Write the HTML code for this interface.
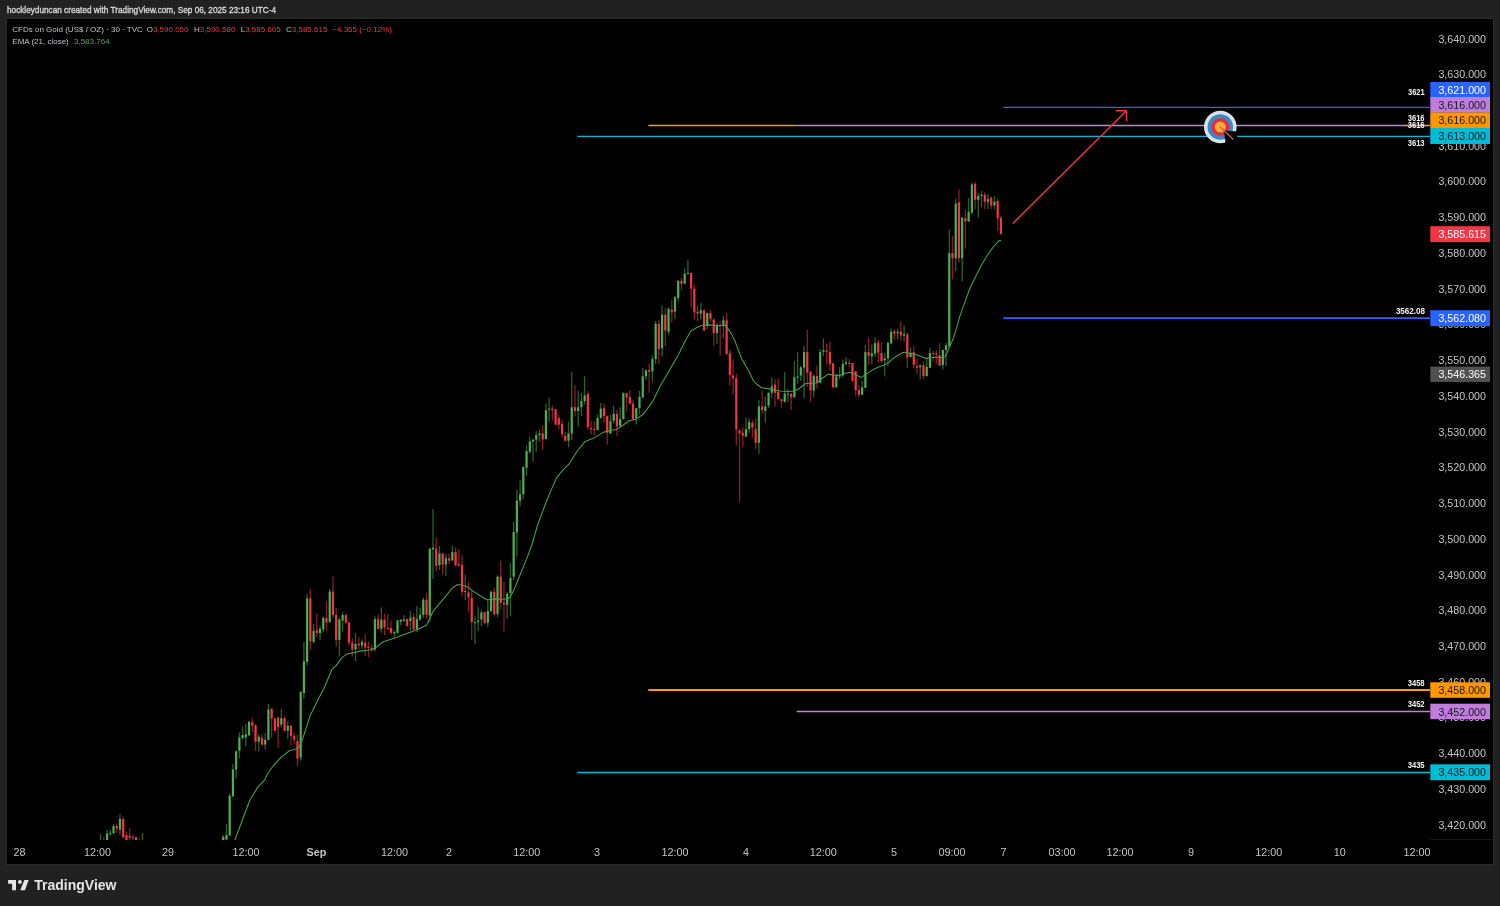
<!DOCTYPE html><html><head><meta charset="utf-8"><title>TradingView chart</title><style>
html,body{margin:0;padding:0;background:#212121;width:1500px;height:906px;overflow:hidden}
svg{display:block}
text{font-family:"Liberation Sans",Arial,sans-serif}
svg{-webkit-font-smoothing:antialiased}
</style></head><body>
<svg width="1500" height="906" viewBox="0 0 1500 906" style="will-change:transform">
<rect x="0" y="0" width="1500" height="906" fill="#212121"/>
<text x="7" y="13.4" font-size="9.2" font-weight="400" fill="#d8d8d8" stroke="#d8d8d8" stroke-width="0.35" textLength="269" lengthAdjust="spacingAndGlyphs">hockleyduncan created with TradingView.com, Sep 06, 2025 23:16 UTC-4</text>
<rect x="6.5" y="18.5" width="1487" height="846" fill="#000" stroke="#2c2c2c" stroke-width="1"/>
<defs><clipPath id="pane"><rect x="7" y="19" width="1423" height="821"/></clipPath></defs>
<g clip-path="url(#pane)">
<line x1="577.3" y1="136.4" x2="1430" y2="136.4" stroke="#00bcd4" stroke-width="1.3"/>
<line x1="648.3" y1="125.5" x2="796.7" y2="125.5" stroke="#ff9800" stroke-width="1.3"/>
<line x1="796.7" y1="125.5" x2="1430" y2="125.5" stroke="#c27fe0" stroke-width="1.3"/>
<line x1="1404" y1="125.5" x2="1428" y2="125.5" stroke="#ff9800" stroke-width="1.3"/>
<line x1="1003.3" y1="107.4" x2="1430" y2="107.4" stroke="#2962ff" stroke-width="1.3"/>
<line x1="1003.3" y1="318.1" x2="1430" y2="318.1" stroke="#2962ff" stroke-width="1.8"/>
<line x1="648.3" y1="690" x2="1430" y2="690" stroke="#ff9800" stroke-width="1.8"/>
<line x1="796.7" y1="711.5" x2="1430" y2="711.5" stroke="#c27fe0" stroke-width="1.3"/>
<line x1="577.3" y1="772.5" x2="1430" y2="772.5" stroke="#00bcd4" stroke-width="1.3"/>
<path d="M100.62 833.9V845.0M107.08 830.0V843.0M110.30 830.0V836.0M113.53 824.0V835.0M119.98 814.1V834.9M142.57 833.0V843.0M223.24 835.0V843.0M226.47 824.1V841.0M229.69 793.3V836.0M232.92 764.0V797.0M236.15 750.5V778.6M239.38 732.5V758.6M242.60 726.4V739.8M245.83 724.0V746.5M249.06 721.0V736.0M258.74 734.3V751.3M265.19 733.1V749.5M268.42 704.0V740.5M281.32 708.8V727.6M287.78 721.0V739.2M300.68 691.0V760.4M303.91 641.9V698.5M307.14 594.3V665.4M313.59 624.0V643.0M320.05 625.4V639.9M323.27 616.4V632.3M329.73 588.8V623.3M339.41 618.5V656.4M342.63 612.3V631.6M355.54 633.0V661.2M361.99 639.2V648.8M374.90 616.4V651.6M381.35 607.3V632.8M394.26 630.7V637.6M397.49 620.0V633.5M400.72 619.0V625.2M403.94 614.9V621.8M410.40 610.7V630.7M416.85 605.9V632.1M420.08 608.0V620.5M423.30 597.6V618.3M429.76 548.0V622.5M432.98 509.0V579.0M439.44 545.9V570.0M445.89 554.1V576.2M452.34 546.3V561.0M465.25 574.5V600.0M474.93 616.6V644.2M478.16 606.9V631.1M481.39 609.7V626.2M487.84 600.0V626.9M491.07 590.4V611.8M497.52 575.2V617.3M507.20 591.8V618.7M510.43 562.8V615.9M513.65 522.1V580.0M516.88 489.4V556.6M520.11 480.6V506.3M523.33 466.5V499.0M526.56 445.4V475.8M529.79 436.6V453.4M533.01 439.0V461.4M536.24 431.0V451.8M539.47 429.4V441.4M545.92 403.8V439.5M549.15 397.4V421.4M568.51 421.4V447.0M571.74 372.0V440.1M578.19 390.8V426.5M581.42 393.2V415.7M584.64 376.3V404.4M597.55 414.7V430.5M600.78 403.0V418.5M610.46 414.7V434.0M613.68 405.8V423.7M620.14 407.2V426.5M623.36 392.2V419.5M636.27 407.7V424.6M639.50 390.8V414.7M642.73 368.3V398.0M645.95 369.7V380.0M652.41 355.5V382.0M655.63 321.0V364.1M662.09 305.2V356.2M668.54 307.4V334.7M674.99 295.9V318.9M678.22 280.3V301.6M684.67 268.6V284.2M687.90 260.0V274.5M700.81 303.1V319.6M707.26 312.6V328.9M716.94 322.5V344.0M723.40 316.0V338.2M745.98 417.4V437.0M749.21 418.3V432.8M758.89 400.1V453.8M765.34 396.4V422.8M768.57 392.3V408.3M771.80 377.3V398.2M784.70 371.9V402.4M787.93 389.1V401.9M794.38 360.9V397.8M797.61 351.8V383.7M800.84 365.5V381.0M804.07 346.0V398.0M813.75 374.1V397.6M820.20 349.3V383.1M823.43 338.5V356.3M836.33 373.7V387.8M839.56 367.1V379.8M842.79 359.6V377.4M846.01 357.2V365.7M862.15 380.7V395.3M865.37 345.0V388.2M871.83 344.6V364.3M875.05 337.5V356.8M884.74 353.1V376.5M887.96 341.2V365.9M891.19 328.4V343.9M897.64 328.4V339.4M904.10 325.3V341.2M910.55 347.4V357.6M920.23 363.7V379.6M926.68 357.5V376.6M929.91 347.4V368.1M942.82 349.5V369.5M946.04 343.0V365.9M949.27 229.6V347.0M955.72 199.1V270.9M962.18 217.1V281.1M968.63 197.9V221.9M971.86 182.6V214.4M978.31 192.8V217.6M981.54 190.9V207.4M987.99 194.1V209.3M994.45 196.0V209.3" stroke="#4caf50" stroke-width="1.3" fill="none" stroke-opacity="0.55"/>
<path d="M103.85 836.5V845.0M116.76 824.0V833.0M123.21 816.2V838.0M126.44 832.0V843.0M129.66 828.3V841.0M132.89 835.0V841.0M136.12 836.5V842.0M139.34 838.8V843.0M252.28 718.0V731.9M255.51 724.5V751.3M261.96 734.3V745.5M271.64 708.0V737.4M274.87 718.0V731.5M278.10 717.0V747.7M284.55 715.5V731.5M291.00 725.0V745.3M294.23 732.5V744.6M297.46 735.0V766.5M310.36 588.8V650.2M316.82 613.6V637.1M326.50 601.2V630.9M332.95 576.4V617.8M336.18 608.1V646.8M345.86 613.6V623.5M349.09 622.0V645.4M352.31 638.5V656.4M358.77 637.1V650.2M365.22 634.3V655.7M368.45 641.2V657.1M371.67 644.7V652.3M378.13 614.3V629.5M384.58 613.5V634.9M387.81 614.2V629.5M391.03 620.4V634.9M407.17 618.5V626.5M413.62 612.8V630.0M426.53 592.8V619.0M436.21 537.6V571.4M442.66 553.0V574.8M449.12 553.5V563.8M455.57 547.4V566.6M458.80 549.0V566.5M462.02 555.2V596.6M468.48 582.1V611.8M471.70 591.1V640.0M484.61 611.5V624.2M494.29 587.6V615.2M500.75 560.7V609.7M503.97 581.4V631.8M542.69 425.4V450.2M552.37 405.4V420.6M555.60 409.0V425.2M558.83 415.0V429.4M562.06 419.8V437.4M565.28 431.8V442.2M574.96 385.2V416.6M587.87 391.3V429.8M591.10 420.4V434.4M594.32 421.3V435.4M604.00 403.5V422.7M607.23 415.5V444.8M616.91 410.0V435.9M626.59 392.7V411.5M629.82 390.3V404.0M633.04 400.2V419.5M649.18 363.4V392.7M658.86 320.3V364.1M665.31 308.1V346.1M671.77 299.5V322.5M681.45 278.0V290.2M691.13 272.4V307.4M694.35 284.4V319.6M697.58 305.2V321.0M704.03 309.8V331.0M710.49 310.3V321.7M713.71 318.2V345.4M720.17 321.0V355.5M726.62 313.1V354.5M729.85 349.7V385.5M733.08 359.5V394.6M736.30 373.7V445.6M739.53 429.2V502.0M742.76 427.4V447.4M752.44 420.1V437.4M755.66 418.3V449.2M762.12 391.0V414.6M775.02 379.1V406.4M778.25 379.1V399.7M781.48 398.7V408.3M791.16 393.2V410.1M807.29 330.0V386.8M810.52 371.3V402.0M816.97 365.2V388.7M826.65 344.1V364.3M829.88 341.7V370.8M833.11 362.8V388.2M849.24 359.1V367.1M852.47 362.4V382.1M855.69 370.8V396.6M858.92 384.9V397.6M868.60 337.5V365.2M878.28 339.4V362.4M881.51 342.1V362.8M894.42 329.3V339.4M900.87 321.3V341.2M907.32 332.4V368.1M913.78 346.1V368.6M917.00 358.4V373.4M923.46 361.1V379.6M933.14 350.9V361.1M936.36 350.5V363.7M939.59 343.0V365.9M952.50 236.0V279.2M958.95 189.6V262.7M965.41 209.9V248.7M975.09 182.0V209.3M984.77 192.2V209.3M991.22 196.6V209.3M997.67 198.5V230.9M1000.90 215.7V234.6" stroke="#f23645" stroke-width="1.3" fill="none" stroke-opacity="0.55"/>
<g fill="#4caf50"><rect x="99.52" y="841.0" width="2.2" height="4.0"/><rect x="105.98" y="833.5" width="2.2" height="8.5"/><rect x="109.20" y="832.8" width="2.2" height="1.0"/><rect x="112.43" y="826.0" width="2.2" height="7.0"/><rect x="118.88" y="819.0" width="2.2" height="10.7"/><rect x="141.47" y="841.0" width="2.2" height="1.0"/><rect x="222.14" y="836.8" width="2.2" height="5.2"/><rect x="225.37" y="835.1" width="2.2" height="4.4"/><rect x="228.59" y="795.8" width="2.2" height="39.6"/><rect x="231.82" y="769.5" width="2.2" height="26.8"/><rect x="235.05" y="751.3" width="2.2" height="18.2"/><rect x="238.28" y="737.4" width="2.2" height="13.3"/><rect x="241.50" y="735.0" width="2.2" height="3.0"/><rect x="244.73" y="734.3" width="2.2" height="3.2"/><rect x="247.96" y="721.8" width="2.2" height="13.4"/><rect x="257.64" y="736.8" width="2.2" height="4.8"/><rect x="264.09" y="739.8" width="2.2" height="4.8"/><rect x="267.32" y="709.4" width="2.2" height="30.4"/><rect x="280.22" y="718.2" width="2.2" height="6.4"/><rect x="286.68" y="725.8" width="2.2" height="4.9"/><rect x="299.58" y="692.0" width="2.2" height="65.4"/><rect x="302.81" y="661.2" width="2.2" height="31.8"/><rect x="306.04" y="598.5" width="2.2" height="63.4"/><rect x="312.49" y="630.9" width="2.2" height="11.0"/><rect x="318.95" y="628.8" width="2.2" height="4.2"/><rect x="322.17" y="617.8" width="2.2" height="11.7"/><rect x="328.63" y="591.6" width="2.2" height="30.3"/><rect x="338.31" y="619.2" width="2.2" height="20.7"/><rect x="341.53" y="615.0" width="2.2" height="5.5"/><rect x="354.44" y="644.0" width="2.2" height="5.5"/><rect x="360.89" y="641.9" width="2.2" height="3.5"/><rect x="373.80" y="619.2" width="2.2" height="30.3"/><rect x="380.25" y="619.7" width="2.2" height="9.0"/><rect x="393.16" y="632.1" width="2.2" height="1.4"/><rect x="396.39" y="620.4" width="2.2" height="12.4"/><rect x="399.62" y="619.7" width="2.2" height="2.1"/><rect x="402.84" y="619.4" width="2.2" height="1.7"/><rect x="409.30" y="617.6" width="2.2" height="3.5"/><rect x="415.75" y="619.0" width="2.2" height="10.4"/><rect x="418.98" y="614.9" width="2.2" height="4.8"/><rect x="422.20" y="599.7" width="2.2" height="15.2"/><rect x="428.66" y="548.6" width="2.2" height="67.0"/><rect x="431.88" y="547.7" width="2.2" height="1.6"/><rect x="438.34" y="553.5" width="2.2" height="11.7"/><rect x="444.79" y="558.3" width="2.2" height="6.2"/><rect x="451.24" y="552.1" width="2.2" height="8.3"/><rect x="464.15" y="591.0" width="2.2" height="1.0"/><rect x="473.83" y="622.0" width="2.2" height="1.0"/><rect x="477.06" y="620.5" width="2.2" height="1.6"/><rect x="480.29" y="612.5" width="2.2" height="6.9"/><rect x="486.74" y="611.1" width="2.2" height="11.7"/><rect x="489.97" y="591.8" width="2.2" height="19.3"/><rect x="496.42" y="576.6" width="2.2" height="37.2"/><rect x="506.10" y="593.8" width="2.2" height="11.1"/><rect x="509.33" y="578.0" width="2.2" height="15.1"/><rect x="512.55" y="532.1" width="2.2" height="44.5"/><rect x="515.78" y="500.7" width="2.2" height="31.7"/><rect x="519.01" y="494.2" width="2.2" height="6.5"/><rect x="522.23" y="467.0" width="2.2" height="27.2"/><rect x="525.46" y="451.0" width="2.2" height="16.8"/><rect x="528.69" y="441.4" width="2.2" height="10.4"/><rect x="531.91" y="439.8" width="2.2" height="1.6"/><rect x="535.14" y="435.0" width="2.2" height="4.8"/><rect x="538.37" y="433.4" width="2.2" height="1.6"/><rect x="544.82" y="410.2" width="2.2" height="28.8"/><rect x="548.05" y="408.6" width="2.2" height="1.1"/><rect x="567.41" y="433.4" width="2.2" height="7.2"/><rect x="570.64" y="407.2" width="2.2" height="26.3"/><rect x="577.09" y="407.2" width="2.2" height="3.8"/><rect x="580.32" y="401.1" width="2.2" height="6.1"/><rect x="583.54" y="395.5" width="2.2" height="5.6"/><rect x="596.45" y="418.0" width="2.2" height="11.8"/><rect x="599.68" y="408.6" width="2.2" height="9.4"/><rect x="609.36" y="421.3" width="2.2" height="12.2"/><rect x="612.58" y="413.8" width="2.2" height="7.0"/><rect x="619.04" y="419.0" width="2.2" height="7.0"/><rect x="622.26" y="393.2" width="2.2" height="25.8"/><rect x="635.17" y="408.2" width="2.2" height="9.8"/><rect x="638.40" y="396.9" width="2.2" height="11.3"/><rect x="641.63" y="376.3" width="2.2" height="21.1"/><rect x="644.85" y="370.2" width="2.2" height="6.1"/><rect x="651.31" y="359.1" width="2.2" height="12.2"/><rect x="654.53" y="323.9" width="2.2" height="35.2"/><rect x="660.99" y="314.6" width="2.2" height="33.7"/><rect x="667.44" y="308.8" width="2.2" height="23.0"/><rect x="673.89" y="297.3" width="2.2" height="14.4"/><rect x="677.12" y="280.8" width="2.2" height="17.3"/><rect x="683.57" y="273.7" width="2.2" height="10.0"/><rect x="686.80" y="272.9" width="2.2" height="1.0"/><rect x="699.71" y="310.3" width="2.2" height="3.3"/><rect x="706.16" y="313.1" width="2.2" height="12.9"/><rect x="715.84" y="325.3" width="2.2" height="7.9"/><rect x="722.30" y="320.3" width="2.2" height="5.0"/><rect x="744.88" y="429.2" width="2.2" height="7.3"/><rect x="748.11" y="421.9" width="2.2" height="7.3"/><rect x="757.79" y="406.4" width="2.2" height="36.4"/><rect x="764.24" y="406.4" width="2.2" height="4.6"/><rect x="767.47" y="392.8" width="2.2" height="12.7"/><rect x="770.70" y="386.4" width="2.2" height="6.4"/><rect x="783.60" y="393.7" width="2.2" height="8.2"/><rect x="786.83" y="393.6" width="2.2" height="1.0"/><rect x="793.28" y="377.3" width="2.2" height="20.0"/><rect x="796.51" y="376.4" width="2.2" height="1.3"/><rect x="799.74" y="367.3" width="2.2" height="8.2"/><rect x="802.97" y="352.1" width="2.2" height="15.5"/><rect x="812.65" y="376.0" width="2.2" height="14.5"/><rect x="819.10" y="352.1" width="2.2" height="30.5"/><rect x="822.33" y="350.2" width="2.2" height="1.4"/><rect x="835.23" y="376.5" width="2.2" height="10.8"/><rect x="838.46" y="375.3" width="2.2" height="1.2"/><rect x="841.69" y="363.8" width="2.2" height="11.7"/><rect x="844.91" y="362.4" width="2.2" height="1.4"/><rect x="861.05" y="387.3" width="2.2" height="7.5"/><rect x="864.27" y="352.1" width="2.2" height="35.6"/><rect x="870.73" y="353.5" width="2.2" height="2.8"/><rect x="873.95" y="343.2" width="2.2" height="10.3"/><rect x="883.64" y="358.4" width="2.2" height="1.8"/><rect x="886.86" y="343.0" width="2.2" height="15.4"/><rect x="890.09" y="331.9" width="2.2" height="11.5"/><rect x="896.54" y="331.9" width="2.2" height="1.4"/><rect x="903.00" y="334.1" width="2.2" height="1.4"/><rect x="909.45" y="352.7" width="2.2" height="4.4"/><rect x="919.13" y="365.5" width="2.2" height="1.8"/><rect x="925.58" y="366.8" width="2.2" height="9.3"/><rect x="928.81" y="353.1" width="2.2" height="14.6"/><rect x="941.72" y="350.0" width="2.2" height="15.0"/><rect x="944.94" y="345.2" width="2.2" height="4.8"/><rect x="948.17" y="253.1" width="2.2" height="93.4"/><rect x="954.62" y="203.6" width="2.2" height="54.6"/><rect x="961.08" y="217.6" width="2.2" height="40.6"/><rect x="967.53" y="211.8" width="2.2" height="9.6"/><rect x="970.76" y="184.5" width="2.2" height="28.0"/><rect x="977.21" y="196.0" width="2.2" height="3.8"/><rect x="980.44" y="194.7" width="2.2" height="1.3"/><rect x="986.89" y="199.1" width="2.2" height="2.6"/><rect x="993.35" y="201.7" width="2.2" height="3.8"/></g>
<g fill="#f23645"><rect x="102.75" y="841.0" width="2.2" height="4.0"/><rect x="115.66" y="826.0" width="2.2" height="2.5"/><rect x="122.11" y="819.0" width="2.2" height="18.2"/><rect x="125.34" y="835.0" width="2.2" height="6.0"/><rect x="128.56" y="836.0" width="2.2" height="1.5"/><rect x="131.79" y="837.0" width="2.2" height="1.0"/><rect x="135.02" y="837.2" width="2.2" height="3.8"/><rect x="138.24" y="841.0" width="2.2" height="2.0"/><rect x="251.18" y="722.2" width="2.2" height="3.6"/><rect x="254.41" y="725.2" width="2.2" height="16.4"/><rect x="260.86" y="738.0" width="2.2" height="6.6"/><rect x="270.54" y="708.8" width="2.2" height="9.7"/><rect x="273.77" y="718.5" width="2.2" height="12.2"/><rect x="277.00" y="717.7" width="2.2" height="9.3"/><rect x="283.45" y="718.2" width="2.2" height="12.5"/><rect x="289.90" y="725.8" width="2.2" height="10.3"/><rect x="293.13" y="736.1" width="2.2" height="3.7"/><rect x="296.36" y="741.0" width="2.2" height="17.6"/><rect x="309.26" y="598.5" width="2.2" height="42.7"/><rect x="315.72" y="630.2" width="2.2" height="2.8"/><rect x="325.40" y="617.8" width="2.2" height="4.8"/><rect x="331.85" y="591.6" width="2.2" height="23.4"/><rect x="335.08" y="615.0" width="2.2" height="24.9"/><rect x="344.76" y="615.0" width="2.2" height="7.6"/><rect x="347.99" y="622.6" width="2.2" height="20.0"/><rect x="351.21" y="642.6" width="2.2" height="6.9"/><rect x="357.67" y="643.6" width="2.2" height="1.8"/><rect x="364.12" y="642.6" width="2.2" height="4.8"/><rect x="367.35" y="646.8" width="2.2" height="1.3"/><rect x="370.57" y="648.1" width="2.2" height="1.4"/><rect x="377.03" y="619.2" width="2.2" height="9.6"/><rect x="383.48" y="619.7" width="2.2" height="7.6"/><rect x="386.71" y="628.0" width="2.2" height="1.0"/><rect x="389.93" y="628.0" width="2.2" height="4.8"/><rect x="406.07" y="619.0" width="2.2" height="6.9"/><rect x="412.52" y="616.9" width="2.2" height="12.5"/><rect x="425.43" y="599.7" width="2.2" height="15.2"/><rect x="435.11" y="548.6" width="2.2" height="17.3"/><rect x="441.56" y="553.5" width="2.2" height="11.0"/><rect x="448.02" y="558.3" width="2.2" height="2.3"/><rect x="454.47" y="552.1" width="2.2" height="13.4"/><rect x="457.70" y="564.2" width="2.2" height="1.5"/><rect x="460.92" y="564.8" width="2.2" height="27.0"/><rect x="467.38" y="592.4" width="2.2" height="4.9"/><rect x="470.60" y="598.0" width="2.2" height="24.1"/><rect x="483.51" y="612.2" width="2.2" height="10.6"/><rect x="493.19" y="591.8" width="2.2" height="22.7"/><rect x="499.65" y="576.6" width="2.2" height="26.2"/><rect x="502.87" y="602.5" width="2.2" height="1.9"/><rect x="541.59" y="433.4" width="2.2" height="6.1"/><rect x="551.27" y="408.6" width="2.2" height="1.6"/><rect x="554.50" y="409.4" width="2.2" height="15.2"/><rect x="557.73" y="418.2" width="2.2" height="6.4"/><rect x="560.96" y="423.8" width="2.2" height="10.4"/><rect x="564.18" y="435.8" width="2.2" height="4.8"/><rect x="573.86" y="407.2" width="2.2" height="3.8"/><rect x="586.77" y="394.1" width="2.2" height="32.8"/><rect x="590.00" y="428.1" width="2.2" height="1.2"/><rect x="593.22" y="429.1" width="2.2" height="1.1"/><rect x="602.90" y="408.2" width="2.2" height="7.9"/><rect x="606.13" y="416.1" width="2.2" height="16.5"/><rect x="615.81" y="413.8" width="2.2" height="12.7"/><rect x="625.49" y="393.2" width="2.2" height="4.2"/><rect x="628.72" y="396.9" width="2.2" height="6.6"/><rect x="631.94" y="403.5" width="2.2" height="15.5"/><rect x="648.08" y="370.2" width="2.2" height="1.6"/><rect x="657.76" y="323.9" width="2.2" height="25.1"/><rect x="664.21" y="314.6" width="2.2" height="15.8"/><rect x="670.67" y="309.5" width="2.2" height="2.9"/><rect x="680.35" y="280.8" width="2.2" height="2.9"/><rect x="690.03" y="272.9" width="2.2" height="15.8"/><rect x="693.25" y="288.7" width="2.2" height="23.7"/><rect x="696.48" y="311.7" width="2.2" height="1.9"/><rect x="702.93" y="310.3" width="2.2" height="20.1"/><rect x="709.39" y="313.1" width="2.2" height="5.8"/><rect x="712.61" y="319.6" width="2.2" height="13.6"/><rect x="719.07" y="325.0" width="2.2" height="1.0"/><rect x="725.52" y="320.3" width="2.2" height="33.7"/><rect x="728.75" y="353.3" width="2.2" height="21.6"/><rect x="731.98" y="375.6" width="2.2" height="2.9"/><rect x="735.20" y="378.2" width="2.2" height="51.0"/><rect x="738.43" y="430.6" width="2.2" height="2.6"/><rect x="741.66" y="432.8" width="2.2" height="2.8"/><rect x="751.34" y="422.8" width="2.2" height="4.6"/><rect x="754.56" y="429.2" width="2.2" height="13.6"/><rect x="761.02" y="406.4" width="2.2" height="3.7"/><rect x="773.92" y="384.6" width="2.2" height="8.2"/><rect x="777.15" y="391.9" width="2.2" height="7.3"/><rect x="780.38" y="399.2" width="2.2" height="1.8"/><rect x="790.06" y="393.7" width="2.2" height="3.6"/><rect x="806.19" y="352.1" width="2.2" height="20.6"/><rect x="809.42" y="371.8" width="2.2" height="18.7"/><rect x="815.87" y="376.0" width="2.2" height="6.6"/><rect x="825.55" y="350.5" width="2.2" height="1.3"/><rect x="828.78" y="352.1" width="2.2" height="11.7"/><rect x="832.01" y="363.3" width="2.2" height="24.0"/><rect x="848.14" y="362.9" width="2.2" height="1.0"/><rect x="851.37" y="362.9" width="2.2" height="17.8"/><rect x="854.59" y="371.3" width="2.2" height="18.8"/><rect x="857.82" y="390.1" width="2.2" height="4.7"/><rect x="867.50" y="352.1" width="2.2" height="3.7"/><rect x="877.18" y="342.7" width="2.2" height="9.8"/><rect x="880.41" y="353.1" width="2.2" height="8.0"/><rect x="893.32" y="331.5" width="2.2" height="2.2"/><rect x="899.77" y="331.5" width="2.2" height="4.0"/><rect x="906.22" y="334.6" width="2.2" height="22.9"/><rect x="912.68" y="352.2" width="2.2" height="12.4"/><rect x="915.90" y="365.9" width="2.2" height="1.8"/><rect x="922.36" y="365.0" width="2.2" height="11.1"/><rect x="932.04" y="353.0" width="2.2" height="1.0"/><rect x="935.26" y="353.4" width="2.2" height="1.2"/><rect x="938.49" y="355.3" width="2.2" height="10.2"/><rect x="951.40" y="253.1" width="2.2" height="5.1"/><rect x="957.85" y="202.3" width="2.2" height="55.9"/><rect x="964.31" y="218.2" width="2.2" height="3.2"/><rect x="973.99" y="183.9" width="2.2" height="15.9"/><rect x="983.67" y="194.7" width="2.2" height="7.0"/><rect x="990.12" y="197.9" width="2.2" height="7.6"/><rect x="996.57" y="201.0" width="2.2" height="17.2"/><rect x="999.80" y="217.6" width="2.2" height="16.5"/></g>
<polyline points="234.5,841.0 249.9,800.0 257.8,787.1 265.1,779.3 267.5,773.8 273.6,765.3 280.9,757.4 289.4,750.7 295.4,749.3 299.1,747.1 302.7,738.6 310.0,716.1 317.8,700.0 324.0,688.2 332.3,668.8 336.4,665.4 341.9,657.8 346.1,654.3 350.2,653.4 355.7,652.3 361.2,650.9 368.1,650.2 372.3,649.5 375.0,648.1 383.3,641.8 394.3,638.3 402.6,634.9 410.9,632.1 417.8,629.4 426.7,624.9 433.0,611.4 439.9,603.1 446.8,594.9 452.3,588.0 457.8,584.5 463.3,585.5 468.8,587.6 472.9,591.1 477.1,593.8 482.6,597.3 487.4,600.0 490.9,599.3 496.4,598.9 501.9,599.3 507.4,598.7 510.2,597.3 514.3,589.0 519.9,575.2 526.8,558.6 532.3,543.5 537.2,526.3 543.6,508.7 550.0,492.6 556.4,478.2 562.8,470.2 569.2,463.8 577.2,451.0 585.2,441.4 595.0,437.4 603.8,432.1 610.4,430.7 616.9,429.3 622.6,425.5 629.1,420.8 635.7,419.4 643.2,414.3 652.6,401.6 660.8,385.0 668.0,372.7 678.0,355.5 685.2,341.1 690.9,331.1 696.7,327.5 702.4,325.3 708.2,324.9 713.9,325.3 719.6,325.6 725.4,325.3 729.7,331.1 735.0,341.1 741.4,358.2 748.7,370.9 754.1,381.9 761.4,387.7 770.5,389.1 779.6,391.0 788.7,391.5 794.2,391.0 799.6,388.2 805.6,383.5 816.9,383.0 821.6,378.8 828.2,374.1 832.8,375.1 839.4,375.5 844.1,373.7 849.7,372.2 854.4,374.1 861.0,377.4 865.7,374.6 873.2,369.4 879.8,366.6 884.4,365.0 888.8,362.4 895.0,357.1 903.4,352.2 906.5,352.7 915.3,354.4 920.6,356.2 925.9,358.4 933.0,357.5 941.8,357.1 945.3,356.7 948.9,348.3 953.3,338.6 956.8,327.1 960.0,315.6 969.2,290.1 974.3,279.2 980.7,266.5 988.3,253.8 993.4,246.8 998.4,241.1 1001.0,240.4" fill="none" stroke="#44a048" stroke-width="1.1" stroke-linejoin="round"/>
<g stroke="#f23645" stroke-width="1.35" fill="none" stroke-linecap="round" stroke-linejoin="round"><line x1="1013" y1="223.2" x2="1126.5" y2="110.7"/><polyline points="1116.3,110.7 1126.5,110.7 1126.5,120.6"/></g>
</g>
<g><circle cx="1220.3" cy="127" r="16.3" fill="#dbe2e7"/><circle cx="1220.3" cy="127" r="12.8" fill="#3b88c3"/><circle cx="1220.3" cy="127" r="9" fill="#dd2e44"/><circle cx="1220.3" cy="127" r="5.5" fill="#ffac33"/>
<path d="M1223.9 130.6 L1237.3 131.6 L1237.3 144.0 L1225.7 144.0 Z" fill="#000"/>
<line x1="1219.8" y1="126.5" x2="1233.3" y2="139.5" stroke="#c1694f" stroke-width="1.3"/></g>
<text x="1486" y="42.5" font-size="10" fill="#c4c4c4" text-anchor="end" textLength="47.6" lengthAdjust="spacingAndGlyphs">3,640.000</text>
<text x="1486" y="78.2" font-size="10" fill="#c4c4c4" text-anchor="end" textLength="47.6" lengthAdjust="spacingAndGlyphs">3,630.000</text>
<text x="1486" y="149.7" font-size="10" fill="#c4c4c4" text-anchor="end" textLength="47.6" lengthAdjust="spacingAndGlyphs">3,610.000</text>
<text x="1486" y="185.4" font-size="10" fill="#c4c4c4" text-anchor="end" textLength="47.6" lengthAdjust="spacingAndGlyphs">3,600.000</text>
<text x="1486" y="221.2" font-size="10" fill="#c4c4c4" text-anchor="end" textLength="47.6" lengthAdjust="spacingAndGlyphs">3,590.000</text>
<text x="1486" y="256.9" font-size="10" fill="#c4c4c4" text-anchor="end" textLength="47.6" lengthAdjust="spacingAndGlyphs">3,580.000</text>
<text x="1486" y="292.6" font-size="10" fill="#c4c4c4" text-anchor="end" textLength="47.6" lengthAdjust="spacingAndGlyphs">3,570.000</text>
<text x="1486" y="328.4" font-size="10" fill="#c4c4c4" text-anchor="end" textLength="47.6" lengthAdjust="spacingAndGlyphs">3,560.000</text>
<text x="1486" y="364.1" font-size="10" fill="#c4c4c4" text-anchor="end" textLength="47.6" lengthAdjust="spacingAndGlyphs">3,550.000</text>
<text x="1486" y="399.8" font-size="10" fill="#c4c4c4" text-anchor="end" textLength="47.6" lengthAdjust="spacingAndGlyphs">3,540.000</text>
<text x="1486" y="435.6" font-size="10" fill="#c4c4c4" text-anchor="end" textLength="47.6" lengthAdjust="spacingAndGlyphs">3,530.000</text>
<text x="1486" y="471.3" font-size="10" fill="#c4c4c4" text-anchor="end" textLength="47.6" lengthAdjust="spacingAndGlyphs">3,520.000</text>
<text x="1486" y="507.0" font-size="10" fill="#c4c4c4" text-anchor="end" textLength="47.6" lengthAdjust="spacingAndGlyphs">3,510.000</text>
<text x="1486" y="542.7" font-size="10" fill="#c4c4c4" text-anchor="end" textLength="47.6" lengthAdjust="spacingAndGlyphs">3,500.000</text>
<text x="1486" y="578.5" font-size="10" fill="#c4c4c4" text-anchor="end" textLength="47.6" lengthAdjust="spacingAndGlyphs">3,490.000</text>
<text x="1486" y="614.2" font-size="10" fill="#c4c4c4" text-anchor="end" textLength="47.6" lengthAdjust="spacingAndGlyphs">3,480.000</text>
<text x="1486" y="649.9" font-size="10" fill="#c4c4c4" text-anchor="end" textLength="47.6" lengthAdjust="spacingAndGlyphs">3,470.000</text>
<text x="1486" y="685.7" font-size="10" fill="#c4c4c4" text-anchor="end" textLength="47.6" lengthAdjust="spacingAndGlyphs">3,460.000</text>
<text x="1486" y="721.4" font-size="10" fill="#c4c4c4" text-anchor="end" textLength="47.6" lengthAdjust="spacingAndGlyphs">3,450.000</text>
<text x="1486" y="757.1" font-size="10" fill="#c4c4c4" text-anchor="end" textLength="47.6" lengthAdjust="spacingAndGlyphs">3,440.000</text>
<text x="1486" y="792.9" font-size="10" fill="#c4c4c4" text-anchor="end" textLength="47.6" lengthAdjust="spacingAndGlyphs">3,430.000</text>
<text x="1486" y="828.6" font-size="10" fill="#c4c4c4" text-anchor="end" textLength="47.6" lengthAdjust="spacingAndGlyphs">3,420.000</text>
<rect x="1430.3" y="82" width="59.7" height="15.0" fill="#2962ff"/>
<text x="1486" y="93.6" font-size="10" fill="#ffffff" text-anchor="end" textLength="47.6" lengthAdjust="spacingAndGlyphs">3,621.000</text>
<rect x="1430.3" y="97" width="59.7" height="15.6" fill="#c07ddb"/>
<text x="1486" y="108.9" font-size="10" fill="#131722" text-anchor="end" textLength="47.6" lengthAdjust="spacingAndGlyphs">3,616.000</text>
<rect x="1430.3" y="112.4" width="59.7" height="15.7" fill="#ff9800"/>
<text x="1486" y="124.3" font-size="10" fill="#131722" text-anchor="end" textLength="47.6" lengthAdjust="spacingAndGlyphs">3,616.000</text>
<rect x="1430.3" y="127.9" width="59.7" height="16.1" fill="#00bcd4"/>
<text x="1486" y="140.0" font-size="10" fill="#131722" text-anchor="end" textLength="47.6" lengthAdjust="spacingAndGlyphs">3,613.000</text>
<rect x="1430.3" y="226.2" width="59.7" height="15.9" fill="#f23645"/>
<text x="1486" y="238.2" font-size="10" fill="#ffffff" text-anchor="end" textLength="47.6" lengthAdjust="spacingAndGlyphs">3,585.615</text>
<rect x="1430.3" y="310.2" width="59.7" height="15.9" fill="#2962ff"/>
<text x="1486" y="322.2" font-size="10" fill="#ffffff" text-anchor="end" textLength="47.6" lengthAdjust="spacingAndGlyphs">3,562.080</text>
<rect x="1430.3" y="366.6" width="59.7" height="15.4" fill="#505050"/>
<text x="1486" y="378.4" font-size="10" fill="#ffffff" text-anchor="end" textLength="47.6" lengthAdjust="spacingAndGlyphs">3,546.365</text>
<rect x="1430.3" y="682.3" width="59.7" height="15.5" fill="#ff9800"/>
<text x="1486" y="694.1" font-size="10" fill="#131722" text-anchor="end" textLength="47.6" lengthAdjust="spacingAndGlyphs">3,458.000</text>
<rect x="1430.3" y="703.7" width="59.7" height="15.5" fill="#c07ddb"/>
<text x="1486" y="715.6" font-size="10" fill="#131722" text-anchor="end" textLength="47.6" lengthAdjust="spacingAndGlyphs">3,452.000</text>
<rect x="1430.3" y="764.3" width="59.7" height="15.9" fill="#00bcd4"/>
<text x="1486" y="776.4" font-size="10" fill="#131722" text-anchor="end" textLength="47.6" lengthAdjust="spacingAndGlyphs">3,435.000</text>
<text x="1424.6" y="94.7" font-size="8.8" font-weight="700" fill="#f2f2f2" text-anchor="end" textLength="16.6" lengthAdjust="spacingAndGlyphs">3621</text>
<text x="1424.6" y="120.7" font-size="8.8" font-weight="700" fill="#f2f2f2" text-anchor="end" textLength="16.9" lengthAdjust="spacingAndGlyphs">3616</text>
<text x="1424.6" y="127.5" font-size="8.8" font-weight="700" fill="#f2f2f2" text-anchor="end" textLength="16.9" lengthAdjust="spacingAndGlyphs">3616</text>
<text x="1424.6" y="145.8" font-size="8.8" font-weight="700" fill="#f2f2f2" text-anchor="end" textLength="16.9" lengthAdjust="spacingAndGlyphs">3613</text>
<text x="1425" y="314.2" font-size="8.8" font-weight="700" fill="#f2f2f2" text-anchor="end" textLength="29.1" lengthAdjust="spacingAndGlyphs">3562.08</text>
<text x="1424.6" y="685.8" font-size="8.8" font-weight="700" fill="#f2f2f2" text-anchor="end" textLength="16.9" lengthAdjust="spacingAndGlyphs">3458</text>
<text x="1424.6" y="707" font-size="8.8" font-weight="700" fill="#f2f2f2" text-anchor="end" textLength="16.9" lengthAdjust="spacingAndGlyphs">3452</text>
<text x="1424.6" y="768.3" font-size="8.8" font-weight="700" fill="#f2f2f2" text-anchor="end" textLength="16.9" lengthAdjust="spacingAndGlyphs">3435</text>
<line x1="1430" y1="839.5" x2="1493" y2="839.5" stroke="#161616" stroke-width="1"/>
<text x="19.5" y="855.7" font-size="10.8" font-weight="400" fill="#c4c4c4" text-anchor="middle">28</text>
<text x="97.5" y="855.7" font-size="10.8" font-weight="400" fill="#c4c4c4" text-anchor="middle">12:00</text>
<text x="168" y="855.7" font-size="10.8" font-weight="400" fill="#c4c4c4" text-anchor="middle">29</text>
<text x="246" y="855.7" font-size="10.8" font-weight="400" fill="#c4c4c4" text-anchor="middle">12:00</text>
<text x="316.5" y="855.7" font-size="10.8" font-weight="700" fill="#c4c4c4" text-anchor="middle">Sep</text>
<text x="394.5" y="855.7" font-size="10.8" font-weight="400" fill="#c4c4c4" text-anchor="middle">12:00</text>
<text x="449" y="855.7" font-size="10.8" font-weight="400" fill="#c4c4c4" text-anchor="middle">2</text>
<text x="526.7" y="855.7" font-size="10.8" font-weight="400" fill="#c4c4c4" text-anchor="middle">12:00</text>
<text x="597" y="855.7" font-size="10.8" font-weight="400" fill="#c4c4c4" text-anchor="middle">3</text>
<text x="675" y="855.7" font-size="10.8" font-weight="400" fill="#c4c4c4" text-anchor="middle">12:00</text>
<text x="746" y="855.7" font-size="10.8" font-weight="400" fill="#c4c4c4" text-anchor="middle">4</text>
<text x="823.3" y="855.7" font-size="10.8" font-weight="400" fill="#c4c4c4" text-anchor="middle">12:00</text>
<text x="894" y="855.7" font-size="10.8" font-weight="400" fill="#c4c4c4" text-anchor="middle">5</text>
<text x="952" y="855.7" font-size="10.8" font-weight="400" fill="#c4c4c4" text-anchor="middle">09:00</text>
<text x="1003.5" y="855.7" font-size="10.8" font-weight="400" fill="#c4c4c4" text-anchor="middle">7</text>
<text x="1062" y="855.7" font-size="10.8" font-weight="400" fill="#c4c4c4" text-anchor="middle">03:00</text>
<text x="1120" y="855.7" font-size="10.8" font-weight="400" fill="#c4c4c4" text-anchor="middle">12:00</text>
<text x="1191" y="855.7" font-size="10.8" font-weight="400" fill="#c4c4c4" text-anchor="middle">9</text>
<text x="1268.7" y="855.7" font-size="10.8" font-weight="400" fill="#c4c4c4" text-anchor="middle">12:00</text>
<text x="1339.7" y="855.7" font-size="10.8" font-weight="400" fill="#c4c4c4" text-anchor="middle">10</text>
<text x="1417" y="855.7" font-size="10.8" font-weight="400" fill="#c4c4c4" text-anchor="middle">12:00</text>
<text y="32.2" font-size="8" fill="#c0c3cb">
<tspan x="12.3">CFDs on Gold (US$ / OZ) · 30 · TVC</tspan>
<tspan x="146.7">O</tspan><tspan fill="#f23645">3,590.050</tspan>
<tspan x="194">H</tspan><tspan fill="#f23645">3,590.580</tspan>
<tspan x="240.7">L</tspan><tspan fill="#f23645">3,585.605</tspan>
<tspan x="286">C</tspan><tspan fill="#f23645">3,585.615</tspan>
<tspan x="332.3" fill="#f23645">−4.365 (−0.12%)</tspan>
</text>
<text y="44" font-size="8" fill="#c0c3cb"><tspan x="12.3">EMA (21, close)</tspan><tspan x="74" fill="#4caf50">3,583.764</tspan></text>
<g fill="#e6e6e6"><path d="M8.1 880.1H16V890.2H12.1V883.8H8.1z"/><circle cx="19.9" cy="881.9" r="1.9"/><path d="M24.4 880.1H28.7L24.9 890.2H20.3z"/></g>
<text x="34.2" y="890" font-size="14" font-weight="700" fill="#e6e6e6" textLength="82.3" lengthAdjust="spacingAndGlyphs">TradingView</text>
</svg></body></html>
